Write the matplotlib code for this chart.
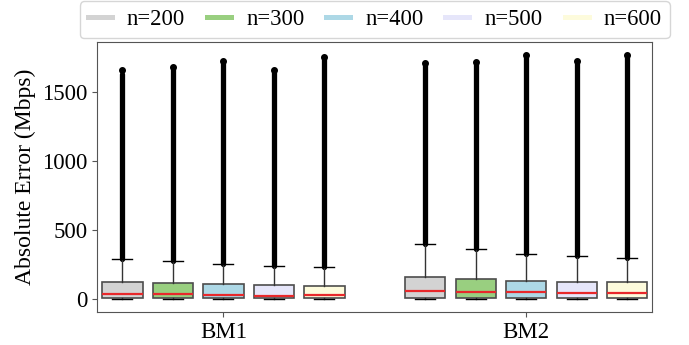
import numpy as np
import matplotlib
matplotlib.use("Agg")
import matplotlib.pyplot as plt
from matplotlib.lines import Line2D

plt.rcParams["font.family"] = ["Liberation Serif", "DejaVu Serif"]

groups = ["BM1", "BM2"]
sizes = ["n=200", "n=300", "n=400", "n=500", "n=600"]
colors = ["#d3d3d3", "#99cf80", "#add8e6", "#e6e6fa", "#fdfbdc"]

# box stats per group (Mbps)
q1 = [[3, 3, 3, 2, 2], [4, 4, 4, 3, 3]]
med = [[31, 31, 24, 17, 24], [53, 46, 46, 39, 39]]
q3 = [[119, 111, 104, 97, 90], [155, 140, 126, 119, 119]]
whis_hi = [[286, 271, 250, 235, 228], [395, 359, 322, 308, 293]]
whis_lo = [[0, 0, 0, 0, 0], [0, 0, 0, 0, 0]]
# outliers are so dense they look like a solid column up to the max
dense_top = [[1625, 1681, 1725, 1660, 1754], [1710, 1717, 1768, 1725, 1768]]
max_val = [[1660, 1681, 1725, 1660, 1754], [1710, 1717, 1768, 1725, 1768]]

fig = plt.figure(figsize=(6.89, 3.45), dpi=100)
ax = fig.add_axes([0.141, 0.096, 0.806, 0.782])

n = len(sizes)
for g in range(len(groups)):
    pos = [g * (n + 1) + i + 1 for i in range(n)]
    stats = []
    for i in range(n):
        stats.append(dict(med=med[g][i], q1=q1[g][i], q3=q3[g][i],
                          whislo=whis_lo[g][i], whishi=whis_hi[g][i],
                          fliers=[max_val[g][i]]))
    ax.vlines(pos, whis_hi[g], dense_top[g], color="black", lw=3.8,
              capstyle="round", zorder=1)
    bp = ax.bxp(stats, positions=pos, widths=0.8, patch_artist=True,
                boxprops=dict(edgecolor="#4d4d4d", linewidth=1.2),
                medianprops=dict(color="#e8282b", linewidth=1.6),
                whiskerprops=dict(color="#333333", linewidth=1.0),
                capprops=dict(color="black", linewidth=1.0),
                flierprops=dict(marker="o", markerfacecolor="black",
                                markeredgecolor="black", markersize=4))
    for patch, c in zip(bp["boxes"], colors):
        patch.set_facecolor(c)

ax.set_xlim(0.5, 2 * n + 1.5)
ax.set_ylim(-97, 1860)
ax.set_xticks([(n + 1) / 2, (n + 1) + (n + 1) / 2])
ax.set_xticklabels(groups, fontsize=16.5)
ax.set_yticks([0, 500, 1000, 1500])
ax.tick_params(axis="y", labelsize=16.5, length=3.5, color="#555555", pad=3.5)
ax.tick_params(axis="x", length=3.5, color="#555555")
ax.set_ylabel("Absolute Error (Mbps)", fontsize=17, labelpad=4)
for s in ax.spines.values():
    s.set_color("#555555")

handles = [Line2D([], [], color=c, lw=3.6) for c in colors]
fig.legend(handles, sizes, loc="upper center", bbox_to_anchor=(0.544, 1.0),
           ncol=5, fontsize=16.3, frameon=True, handlelength=1.06,
           columnspacing=0.97, handletextpad=0.66, borderpad=0.36,
           borderaxespad=0.05, edgecolor="#cccccc")

fig.savefig("out.png", dpi=100)
